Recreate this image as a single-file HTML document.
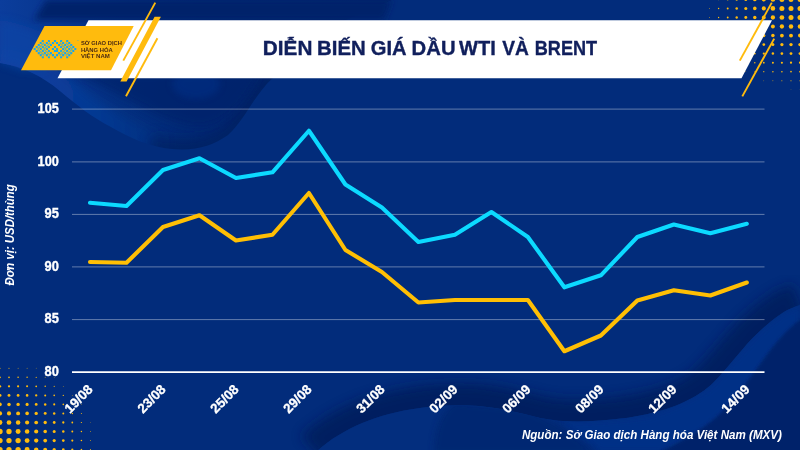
<!DOCTYPE html>
<html lang="vi"><head><meta charset="utf-8"><title>Diễn biến giá dầu WTI và Brent</title>
<style>html,body{margin:0;padding:0;background:#022c7b;}body{width:800px;height:450px;overflow:hidden;font-family:"Liberation Sans",sans-serif;}svg{display:block;will-change:transform;}</style>
</head><body>
<svg width="800" height="450" viewBox="0 0 800 450" font-family="'Liberation Sans', sans-serif">
<defs>
<linearGradient id="w1g" gradientUnits="userSpaceOnUse" x1="0" y1="0" x2="400" y2="0"><stop offset="0" stop-color="#0b3d9c"/><stop offset="0.15" stop-color="#07368e"/><stop offset="0.3" stop-color="#033080"/><stop offset="0.5" stop-color="#012a76"/><stop offset="1" stop-color="#00256c"/></linearGradient>
<linearGradient id="ridge" gradientUnits="userSpaceOnUse" x1="0" y1="0" x2="175" y2="0"><stop offset="0" stop-color="#0c43a4" stop-opacity="0.75"/><stop offset="0.6" stop-color="#0a3c9a" stop-opacity="0.55"/><stop offset="1" stop-color="#0a3c9a" stop-opacity="0"/></linearGradient>
<filter id="blur2" x="-20%" y="-20%" width="140%" height="140%"><feGaussianBlur stdDeviation="1.6"/></filter>
<filter id="blur3" x="-20%" y="-20%" width="140%" height="140%"><feGaussianBlur stdDeviation="3"/></filter>
<filter id="blur4" x="-20%" y="-20%" width="140%" height="140%"><feGaussianBlur stdDeviation="4"/></filter>
<filter id="blur6" x="-20%" y="-20%" width="140%" height="140%"><feGaussianBlur stdDeviation="6"/></filter>
</defs>
<rect width="800" height="450" fill="#022c7b"/>
<g>
<clipPath id="clipW1"><path d="M0,63 C22,66 42,76 60,91 C78,106 92,117 111,127 C130,138 150,147 172,149 C196,151 212,146 228,135 C240,124 250,106 258,95 C264,87 268,82 273,78 L300,40 L392,0 L0,0 Z"/></clipPath>
<path d="M0,63 C22,66 42,76 60,91 C78,106 92,117 111,127 C130,138 150,147 172,149 C196,151 212,146 228,135 C240,124 250,106 258,95 C264,87 268,82 273,78 L300,40 L392,0 L0,0 Z" fill="url(#w1g)"/>
<g clip-path="url(#clipW1)">
<path d="M0,63 C22,66 42,76 60,91 C78,106 92,117 111,127 C130,138 150,147 172,149" fill="none" stroke="url(#ridge)" stroke-width="30" filter="url(#blur4)"/>
<path d="M150,146 C158,148 165,150 172,150 C198,152 214,147 230,136 C242,125 252,107 260,96 C266,88 270,83 275,78" fill="none" stroke="#001c5a" stroke-width="24" filter="url(#blur6)" opacity="0.55"/>
<path d="M70,72 C90,80 118,94 140,106 C162,118 182,128 204,127 C226,124 244,104 262,72 Z" fill="#00226a" filter="url(#blur4)" opacity="0.7"/>
<ellipse cx="196" cy="84" rx="24" ry="15" fill="#05318a" opacity="0.5" filter="url(#blur3)"/>
</g>
<path d="M46,0 L392,0 L384,20 L34,20 Z" fill="#00226a" filter="url(#blur3)"/>
<path d="M0,20 C14,22 30,27 46,34 L46,70 L22,70 C14,66 6,64 0,63 Z" fill="#0c44a6" filter="url(#blur4)" opacity="0.75"/>
<clipPath id="clipLow"><path d="M316,452 C340,430 375,414 420,408 C440,405 460,404.5 479,406 C500,408 520,413 540,418 C560,422 580,422 600,420.5 C625,419 650,415 675,406 C690,400 702,393 712,384 C722,374 730,364 742,350 C752,338 765,325 781,314 C788,309 794,307 800,305 L800,452 Z"/></clipPath>
<clipPath id="clipUp"><path d="M316,452 C340,430 375,414 420,408 C440,405 460,404.5 479,406 C500,408 520,413 540,418 C560,422 580,422 600,420.5 C625,419 650,415 675,406 C690,400 702,393 712,384 C722,374 730,364 742,350 C752,338 765,325 781,314 C788,309 794,307 800,305 L800,0 L0,0 L0,452 Z"/></clipPath>
<g clip-path="url(#clipUp)"><path d="M316,452 C340,430 375,414 420,408 C440,405 460,404.5 479,406 C500,408 520,413 540,418 C560,422 580,422 600,420.5 C625,419 650,415 675,406 C690,400 702,393 712,384 C722,374 730,364 742,350 C752,338 765,325 781,314 C788,309 794,307 800,305" fill="none" stroke="#001a5a" stroke-width="44" filter="url(#blur6)" opacity="0.8"/></g>
<path d="M316,452 C340,430 375,414 420,408 C440,405 460,404.5 479,406 C500,408 520,413 540,418 C560,422 580,422 600,420.5 C625,419 650,415 675,406 C690,400 702,393 712,384 C722,374 730,364 742,350 C752,338 765,325 781,314 C788,309 794,307 800,305 L800,452 Z" fill="#032e7e"/>
<g clip-path="url(#clipLow)">
<path d="M560,421 C580,422 625,419 650,415 C690,400 702,393 712,384 C722,374 730,364 742,350 C752,338 765,325 781,314 L800,305 L800,330 C780,345 765,365 750,385 C735,405 715,425 690,440 L660,452 L600,452 Z" fill="#05338a" filter="url(#blur3)" opacity="0.7"/>
<path d="M434,454 C434,430 440,414 454,402 L520,408 C545,416 575,432 596,454 Z" fill="#00266f" filter="url(#blur3)" opacity="0.8"/>
<path d="M656,454 C680,443 705,428 720,414 C736,397 750,378 763,360 C775,343 788,328 800,320 L806,320 L806,454 Z" fill="#00226a" filter="url(#blur2)"/>
</g>
</g>
<g fill="#ffbb0d">
<circle cx="0.0" cy="449.6" r="2.65"/>
<circle cx="0.0" cy="440.6" r="2.65"/>
<circle cx="0.0" cy="431.5" r="2.65"/>
<circle cx="0.0" cy="422.5" r="2.39"/>
<circle cx="0.0" cy="413.4" r="2.09"/>
<circle cx="0.0" cy="404.4" r="1.78"/>
<circle cx="0.0" cy="395.4" r="1.47"/>
<circle cx="0.0" cy="386.3" r="1.17"/>
<circle cx="0.0" cy="377.3" r="0.86"/>
<circle cx="0.0" cy="368.2" r="0.55"/>
<circle cx="9.0" cy="449.6" r="2.65"/>
<circle cx="9.0" cy="440.6" r="2.65"/>
<circle cx="9.0" cy="431.5" r="2.64"/>
<circle cx="9.0" cy="422.5" r="2.35"/>
<circle cx="9.0" cy="413.4" r="2.06"/>
<circle cx="9.0" cy="404.4" r="1.75"/>
<circle cx="9.0" cy="395.4" r="1.45"/>
<circle cx="9.0" cy="386.3" r="1.15"/>
<circle cx="9.0" cy="377.3" r="0.84"/>
<circle cx="9.0" cy="368.2" r="0.54"/>
<circle cx="18.1" cy="449.6" r="2.65"/>
<circle cx="18.1" cy="440.6" r="2.65"/>
<circle cx="18.1" cy="431.5" r="2.48"/>
<circle cx="18.1" cy="422.5" r="2.24"/>
<circle cx="18.1" cy="413.4" r="1.96"/>
<circle cx="18.1" cy="404.4" r="1.68"/>
<circle cx="18.1" cy="395.4" r="1.39"/>
<circle cx="18.1" cy="386.3" r="1.09"/>
<circle cx="18.1" cy="377.3" r="0.80"/>
<circle cx="18.1" cy="368.2" r="0.49"/>
<circle cx="27.1" cy="449.6" r="2.48"/>
<circle cx="27.1" cy="440.6" r="2.42"/>
<circle cx="27.1" cy="431.5" r="2.27"/>
<circle cx="27.1" cy="422.5" r="2.07"/>
<circle cx="27.1" cy="413.4" r="1.83"/>
<circle cx="27.1" cy="404.4" r="1.56"/>
<circle cx="27.1" cy="395.4" r="1.29"/>
<circle cx="27.1" cy="386.3" r="1.01"/>
<circle cx="27.1" cy="377.3" r="0.72"/>
<circle cx="27.1" cy="368.2" r="0.43"/>
<circle cx="36.2" cy="449.6" r="2.20"/>
<circle cx="36.2" cy="440.6" r="2.15"/>
<circle cx="36.2" cy="431.5" r="2.04"/>
<circle cx="36.2" cy="422.5" r="1.86"/>
<circle cx="36.2" cy="413.4" r="1.65"/>
<circle cx="36.2" cy="404.4" r="1.41"/>
<circle cx="36.2" cy="395.4" r="1.16"/>
<circle cx="36.2" cy="386.3" r="0.89"/>
<circle cx="36.2" cy="377.3" r="0.61"/>
<circle cx="36.2" cy="368.2" r="0.33"/>
<circle cx="45.2" cy="449.6" r="1.92"/>
<circle cx="45.2" cy="440.6" r="1.88"/>
<circle cx="45.2" cy="431.5" r="1.78"/>
<circle cx="45.2" cy="422.5" r="1.64"/>
<circle cx="45.2" cy="413.4" r="1.45"/>
<circle cx="45.2" cy="404.4" r="1.23"/>
<circle cx="45.2" cy="395.4" r="1.00"/>
<circle cx="45.2" cy="386.3" r="0.75"/>
<circle cx="45.2" cy="377.3" r="0.48"/>
<circle cx="54.2" cy="449.6" r="1.63"/>
<circle cx="54.2" cy="440.6" r="1.60"/>
<circle cx="54.2" cy="431.5" r="1.52"/>
<circle cx="54.2" cy="422.5" r="1.39"/>
<circle cx="54.2" cy="413.4" r="1.23"/>
<circle cx="54.2" cy="404.4" r="1.03"/>
<circle cx="54.2" cy="395.4" r="0.82"/>
<circle cx="54.2" cy="386.3" r="0.58"/>
<circle cx="54.2" cy="377.3" r="0.33"/>
<circle cx="63.3" cy="449.6" r="1.35"/>
<circle cx="63.3" cy="440.6" r="1.33"/>
<circle cx="63.3" cy="431.5" r="1.25"/>
<circle cx="63.3" cy="422.5" r="1.14"/>
<circle cx="63.3" cy="413.4" r="0.99"/>
<circle cx="63.3" cy="404.4" r="0.82"/>
<circle cx="63.3" cy="395.4" r="0.62"/>
<circle cx="63.3" cy="386.3" r="0.40"/>
<circle cx="72.3" cy="449.6" r="1.07"/>
<circle cx="72.3" cy="440.6" r="1.05"/>
<circle cx="72.3" cy="431.5" r="0.98"/>
<circle cx="72.3" cy="422.5" r="0.88"/>
<circle cx="72.3" cy="413.4" r="0.75"/>
<circle cx="72.3" cy="404.4" r="0.59"/>
<circle cx="72.3" cy="395.4" r="0.40"/>
<circle cx="81.4" cy="449.6" r="0.79"/>
<circle cx="81.4" cy="440.6" r="0.77"/>
<circle cx="81.4" cy="431.5" r="0.71"/>
<circle cx="81.4" cy="422.5" r="0.62"/>
<circle cx="81.4" cy="413.4" r="0.50"/>
<circle cx="81.4" cy="404.4" r="0.35"/>
<circle cx="90.4" cy="449.6" r="0.50"/>
<circle cx="90.4" cy="440.6" r="0.49"/>
<circle cx="90.4" cy="431.5" r="0.43"/>
<circle cx="90.4" cy="422.5" r="0.35"/>
<circle cx="800.0" cy="-0.6" r="2.50"/>
<circle cx="800.0" cy="8.4" r="2.50"/>
<circle cx="800.0" cy="17.5" r="2.50"/>
<circle cx="800.0" cy="26.5" r="2.29"/>
<circle cx="800.0" cy="35.6" r="2.00"/>
<circle cx="800.0" cy="44.6" r="1.71"/>
<circle cx="800.0" cy="53.6" r="1.42"/>
<circle cx="800.0" cy="62.7" r="1.13"/>
<circle cx="800.0" cy="71.7" r="0.84"/>
<circle cx="800.0" cy="80.8" r="0.55"/>
<circle cx="800.0" cy="89.8" r="0.26"/>
<circle cx="791.0" cy="-0.6" r="2.50"/>
<circle cx="791.0" cy="8.4" r="2.50"/>
<circle cx="791.0" cy="17.5" r="2.50"/>
<circle cx="791.0" cy="26.5" r="2.25"/>
<circle cx="791.0" cy="35.6" r="1.97"/>
<circle cx="791.0" cy="44.6" r="1.69"/>
<circle cx="791.0" cy="53.6" r="1.40"/>
<circle cx="791.0" cy="62.7" r="1.11"/>
<circle cx="791.0" cy="71.7" r="0.83"/>
<circle cx="791.0" cy="80.8" r="0.54"/>
<circle cx="791.0" cy="89.8" r="0.25"/>
<circle cx="781.9" cy="-0.6" r="2.50"/>
<circle cx="781.9" cy="8.4" r="2.50"/>
<circle cx="781.9" cy="17.5" r="2.37"/>
<circle cx="781.9" cy="26.5" r="2.14"/>
<circle cx="781.9" cy="35.6" r="1.88"/>
<circle cx="781.9" cy="44.6" r="1.62"/>
<circle cx="781.9" cy="53.6" r="1.34"/>
<circle cx="781.9" cy="62.7" r="1.06"/>
<circle cx="781.9" cy="71.7" r="0.78"/>
<circle cx="781.9" cy="80.8" r="0.50"/>
<circle cx="772.9" cy="-0.6" r="2.34"/>
<circle cx="772.9" cy="8.4" r="2.30"/>
<circle cx="772.9" cy="17.5" r="2.16"/>
<circle cx="772.9" cy="26.5" r="1.97"/>
<circle cx="772.9" cy="35.6" r="1.75"/>
<circle cx="772.9" cy="44.6" r="1.50"/>
<circle cx="772.9" cy="53.6" r="1.24"/>
<circle cx="772.9" cy="62.7" r="0.98"/>
<circle cx="772.9" cy="71.7" r="0.71"/>
<circle cx="772.9" cy="80.8" r="0.43"/>
<circle cx="763.8" cy="-0.6" r="2.07"/>
<circle cx="763.8" cy="8.4" r="2.04"/>
<circle cx="763.8" cy="17.5" r="1.94"/>
<circle cx="763.8" cy="26.5" r="1.78"/>
<circle cx="763.8" cy="35.6" r="1.58"/>
<circle cx="763.8" cy="44.6" r="1.36"/>
<circle cx="763.8" cy="53.6" r="1.12"/>
<circle cx="763.8" cy="62.7" r="0.87"/>
<circle cx="763.8" cy="71.7" r="0.61"/>
<circle cx="763.8" cy="80.8" r="0.34"/>
<circle cx="754.8" cy="-0.6" r="1.81"/>
<circle cx="754.8" cy="8.4" r="1.78"/>
<circle cx="754.8" cy="17.5" r="1.70"/>
<circle cx="754.8" cy="26.5" r="1.56"/>
<circle cx="754.8" cy="35.6" r="1.39"/>
<circle cx="754.8" cy="44.6" r="1.19"/>
<circle cx="754.8" cy="53.6" r="0.97"/>
<circle cx="754.8" cy="62.7" r="0.73"/>
<circle cx="754.8" cy="71.7" r="0.48"/>
<circle cx="745.8" cy="-0.6" r="1.54"/>
<circle cx="745.8" cy="8.4" r="1.52"/>
<circle cx="745.8" cy="17.5" r="1.45"/>
<circle cx="745.8" cy="26.5" r="1.33"/>
<circle cx="745.8" cy="35.6" r="1.18"/>
<circle cx="745.8" cy="44.6" r="1.00"/>
<circle cx="745.8" cy="53.6" r="0.79"/>
<circle cx="745.8" cy="62.7" r="0.57"/>
<circle cx="745.8" cy="71.7" r="0.34"/>
<circle cx="736.7" cy="-0.6" r="1.27"/>
<circle cx="736.7" cy="8.4" r="1.26"/>
<circle cx="736.7" cy="17.5" r="1.19"/>
<circle cx="736.7" cy="26.5" r="1.09"/>
<circle cx="736.7" cy="35.6" r="0.95"/>
<circle cx="736.7" cy="44.6" r="0.79"/>
<circle cx="736.7" cy="53.6" r="0.60"/>
<circle cx="736.7" cy="62.7" r="0.40"/>
<circle cx="727.7" cy="-0.6" r="1.01"/>
<circle cx="727.7" cy="8.4" r="0.99"/>
<circle cx="727.7" cy="17.5" r="0.94"/>
<circle cx="727.7" cy="26.5" r="0.85"/>
<circle cx="727.7" cy="35.6" r="0.72"/>
<circle cx="727.7" cy="44.6" r="0.57"/>
<circle cx="727.7" cy="53.6" r="0.40"/>
<circle cx="718.6" cy="-0.6" r="0.74"/>
<circle cx="718.6" cy="8.4" r="0.73"/>
<circle cx="718.6" cy="17.5" r="0.68"/>
<circle cx="718.6" cy="26.5" r="0.60"/>
<circle cx="718.6" cy="35.6" r="0.48"/>
<circle cx="718.6" cy="44.6" r="0.35"/>
<circle cx="709.6" cy="-0.6" r="0.48"/>
<circle cx="709.6" cy="8.4" r="0.46"/>
<circle cx="709.6" cy="17.5" r="0.42"/>
<circle cx="709.6" cy="26.5" r="0.34"/>
</g>
<polygon points="88.5,20.3 772,20.3 741.5,78.2 57.5,78.2" fill="#ffffff"/>
<polygon points="44.5,26 133.7,26 111,70.3 21,70.3" fill="#ffbb0d"/>
<g stroke="#ffbb0d" stroke-linecap="butt" fill="none">
<line x1="155.3" y1="2.6" x2="123.3" y2="60.6" stroke-width="1.9"/>
<line x1="157.4" y1="38.3" x2="126" y2="96.2" stroke-width="1.9"/>
<line x1="771.8" y1="2.6" x2="739.8" y2="60.6" stroke-width="1.9"/>
<line x1="774.2" y1="38.6" x2="742.3" y2="96.4" stroke-width="1.9"/>
</g>
<polygon points="154.6,16.7 160.9,16.7 126.6,81.6 120.3,81.6" fill="#ffbb0d"/>
<g fill="none" stroke="#17a6f0" stroke-width="1.1" stroke-opacity="0.7" stroke-linejoin="miter">
<polyline points="44.24,42.55 37.75,49.05 44.24,55.55"/>
<polyline points="50.33,42.55 43.84,49.05 50.33,55.55"/>
<polyline points="65.76,42.55 72.25,49.05 65.76,55.55"/>
<polyline points="59.67,42.55 66.16,49.05 59.67,55.55"/>
</g>
<g fill="#17a6f0">
<rect x="33.66" y="48.01" width="2.08" height="2.08" rx="0.5"/>
<rect x="35.69" y="45.98" width="2.08" height="2.08" rx="0.5"/>
<rect x="35.69" y="50.04" width="2.08" height="2.08" rx="0.5"/>
<rect x="37.72" y="43.95" width="2.08" height="2.08" rx="0.5"/>
<rect x="37.72" y="52.07" width="2.08" height="2.08" rx="0.5"/>
<rect x="39.75" y="41.92" width="2.08" height="2.08" rx="0.5"/>
<rect x="39.75" y="48.01" width="2.08" height="2.08" rx="0.5"/>
<rect x="39.75" y="54.10" width="2.08" height="2.08" rx="0.5"/>
<rect x="41.78" y="39.89" width="2.08" height="2.08" rx="0.5"/>
<rect x="41.78" y="45.98" width="2.08" height="2.08" rx="0.5"/>
<rect x="41.78" y="50.04" width="2.08" height="2.08" rx="0.5"/>
<rect x="41.78" y="56.13" width="2.08" height="2.08" rx="0.5"/>
<rect x="43.81" y="43.95" width="2.08" height="2.08" rx="0.5"/>
<rect x="43.81" y="52.07" width="2.08" height="2.08" rx="0.5"/>
<rect x="45.84" y="41.92" width="2.08" height="2.08" rx="0.5"/>
<rect x="45.84" y="48.01" width="2.08" height="2.08" rx="0.5"/>
<rect x="45.84" y="54.10" width="2.08" height="2.08" rx="0.5"/>
<rect x="47.87" y="39.89" width="2.08" height="2.08" rx="0.5"/>
<rect x="47.87" y="45.98" width="2.08" height="2.08" rx="0.5"/>
<rect x="47.87" y="50.04" width="2.08" height="2.08" rx="0.5"/>
<rect x="47.87" y="56.13" width="2.08" height="2.08" rx="0.5"/>
<rect x="49.90" y="43.95" width="2.08" height="2.08" rx="0.5"/>
<rect x="49.90" y="52.07" width="2.08" height="2.08" rx="0.5"/>
<rect x="51.93" y="41.92" width="2.08" height="2.08" rx="0.5"/>
<rect x="51.93" y="48.01" width="2.08" height="2.08" rx="0.5"/>
<rect x="51.93" y="54.10" width="2.08" height="2.08" rx="0.5"/>
<rect x="53.96" y="39.89" width="2.08" height="2.08" rx="0.5"/>
<rect x="53.96" y="45.98" width="2.08" height="2.08" rx="0.5"/>
<rect x="53.96" y="50.04" width="2.08" height="2.08" rx="0.5"/>
<rect x="53.96" y="56.13" width="2.08" height="2.08" rx="0.5"/>
<rect x="55.99" y="41.92" width="2.08" height="2.08" rx="0.5"/>
<rect x="55.99" y="48.01" width="2.08" height="2.08" rx="0.5"/>
<rect x="55.99" y="50.04" width="2.08" height="2.08" rx="0.5"/>
<rect x="55.99" y="54.10" width="2.08" height="2.08" rx="0.5"/>
<rect x="58.02" y="43.95" width="2.08" height="2.08" rx="0.5"/>
<rect x="58.02" y="52.07" width="2.08" height="2.08" rx="0.5"/>
<rect x="60.05" y="39.89" width="2.08" height="2.08" rx="0.5"/>
<rect x="60.05" y="45.98" width="2.08" height="2.08" rx="0.5"/>
<rect x="60.05" y="50.04" width="2.08" height="2.08" rx="0.5"/>
<rect x="60.05" y="56.13" width="2.08" height="2.08" rx="0.5"/>
<rect x="62.08" y="41.92" width="2.08" height="2.08" rx="0.5"/>
<rect x="62.08" y="48.01" width="2.08" height="2.08" rx="0.5"/>
<rect x="62.08" y="54.10" width="2.08" height="2.08" rx="0.5"/>
<rect x="64.11" y="43.95" width="2.08" height="2.08" rx="0.5"/>
<rect x="64.11" y="52.07" width="2.08" height="2.08" rx="0.5"/>
<rect x="66.14" y="39.89" width="2.08" height="2.08" rx="0.5"/>
<rect x="66.14" y="45.98" width="2.08" height="2.08" rx="0.5"/>
<rect x="66.14" y="50.04" width="2.08" height="2.08" rx="0.5"/>
<rect x="66.14" y="56.13" width="2.08" height="2.08" rx="0.5"/>
<rect x="68.17" y="41.92" width="2.08" height="2.08" rx="0.5"/>
<rect x="68.17" y="48.01" width="2.08" height="2.08" rx="0.5"/>
<rect x="68.17" y="54.10" width="2.08" height="2.08" rx="0.5"/>
<rect x="70.20" y="43.95" width="2.08" height="2.08" rx="0.5"/>
<rect x="70.20" y="52.07" width="2.08" height="2.08" rx="0.5"/>
<rect x="72.23" y="45.98" width="2.08" height="2.08" rx="0.5"/>
<rect x="72.23" y="50.04" width="2.08" height="2.08" rx="0.5"/>
<rect x="74.26" y="48.01" width="2.08" height="2.08" rx="0.5"/>
</g>
<text x="76.6" y="41.6" font-size="2.4" fill="#17a6f0">™</text>
<g font-weight="bold" font-size="6.1" fill="#4b2a12">
<text x="80.9" y="44.8" textLength="41" lengthAdjust="spacingAndGlyphs">SỞ GIAO DỊCH</text>
<text x="80.9" y="51.6" textLength="31.9" lengthAdjust="spacingAndGlyphs">HÀNG HÓA</text>
<text x="80.9" y="58.1" textLength="28.9" lengthAdjust="spacingAndGlyphs">VIỆT NAM</text>
</g>
<g font-size="19.7" font-weight="bold" fill="#101f5c" stroke="#101f5c" stroke-width="0.35">
<text x="262.81" y="55.4" textLength="49.59" lengthAdjust="spacingAndGlyphs">DIỄN</text>
<text x="317.14" y="55.4" textLength="48.74" lengthAdjust="spacingAndGlyphs">BIẾN</text>
<text x="370.88" y="55.4" textLength="35.76" lengthAdjust="spacingAndGlyphs">GIÁ</text>
<text x="411.64" y="55.4" textLength="43.89" lengthAdjust="spacingAndGlyphs">DẦU</text>
<text x="458.98" y="55.4" textLength="36.76" lengthAdjust="spacingAndGlyphs">WTI</text>
<text x="502.27" y="55.4" textLength="26.64" lengthAdjust="spacingAndGlyphs">VÀ</text>
<text x="534.79" y="55.4" textLength="62.41" lengthAdjust="spacingAndGlyphs">BRENT</text>
</g>
<line x1="72" y1="109.1" x2="764.5" y2="109.1" stroke="#ffffff" stroke-opacity="0.38" stroke-width="1"/>
<text x="37.6" y="112.9" font-size="14.4" font-weight="bold" fill="#ffffff" stroke="#ffffff" stroke-width="0.4" textLength="21.2" lengthAdjust="spacingAndGlyphs">105</text>
<line x1="72" y1="161.9" x2="764.5" y2="161.9" stroke="#ffffff" stroke-opacity="0.38" stroke-width="1"/>
<text x="37.6" y="165.7" font-size="14.4" font-weight="bold" fill="#ffffff" stroke="#ffffff" stroke-width="0.4" textLength="21.2" lengthAdjust="spacingAndGlyphs">100</text>
<line x1="72" y1="214.4" x2="764.5" y2="214.4" stroke="#ffffff" stroke-opacity="0.38" stroke-width="1"/>
<text x="44.5" y="218.2" font-size="14.4" font-weight="bold" fill="#ffffff" stroke="#ffffff" stroke-width="0.4" textLength="14.3" lengthAdjust="spacingAndGlyphs">95</text>
<line x1="72" y1="266.9" x2="764.5" y2="266.9" stroke="#ffffff" stroke-opacity="0.38" stroke-width="1"/>
<text x="44.5" y="270.7" font-size="14.4" font-weight="bold" fill="#ffffff" stroke="#ffffff" stroke-width="0.4" textLength="14.3" lengthAdjust="spacingAndGlyphs">90</text>
<line x1="72" y1="319.6" x2="764.5" y2="319.6" stroke="#ffffff" stroke-opacity="0.38" stroke-width="1"/>
<text x="44.5" y="323.4" font-size="14.4" font-weight="bold" fill="#ffffff" stroke="#ffffff" stroke-width="0.4" textLength="14.3" lengthAdjust="spacingAndGlyphs">85</text>
<line x1="72" y1="372.1" x2="764.5" y2="372.1" stroke="#ffffff" stroke-width="1.8"/>
<text x="44.5" y="375.9" font-size="14.4" font-weight="bold" fill="#ffffff" stroke="#ffffff" stroke-width="0.4" textLength="14.3" lengthAdjust="spacingAndGlyphs">80</text>
<polyline points="90.00,262.00 126.49,262.75 162.98,227.00 199.47,215.30 235.96,240.50 272.45,234.75 308.94,193.00 345.43,250.00 381.92,272.00 418.41,302.50 454.90,300.00 491.39,300.00 527.88,300.00 564.37,351.25 600.86,335.50 637.35,300.50 673.84,290.25 710.33,295.50 746.82,282.50" fill="none" stroke="#ffbf04" stroke-width="4.1" stroke-linecap="round" stroke-linejoin="round"/>
<polyline points="90.00,202.75 126.49,206.00 162.98,170.00 199.47,158.25 235.96,178.00 272.45,172.30 308.94,130.75 345.43,184.50 381.92,207.50 418.41,242.00 454.90,234.75 491.39,212.00 527.88,237.00 564.37,287.30 600.86,275.30 637.35,237.00 673.84,224.50 710.33,233.25 746.82,223.75" fill="none" stroke="#0cdaff" stroke-width="4.1" stroke-linecap="round" stroke-linejoin="round"/>
<text transform="translate(93.60,390.3) rotate(-45)" font-size="13.4" font-weight="bold" fill="#ffffff" stroke="#ffffff" stroke-width="0.3" text-anchor="end">19/08</text>
<text transform="translate(166.58,390.3) rotate(-45)" font-size="13.4" font-weight="bold" fill="#ffffff" stroke="#ffffff" stroke-width="0.3" text-anchor="end">23/08</text>
<text transform="translate(239.56,390.3) rotate(-45)" font-size="13.4" font-weight="bold" fill="#ffffff" stroke="#ffffff" stroke-width="0.3" text-anchor="end">25/08</text>
<text transform="translate(312.54,390.3) rotate(-45)" font-size="13.4" font-weight="bold" fill="#ffffff" stroke="#ffffff" stroke-width="0.3" text-anchor="end">29/08</text>
<text transform="translate(385.52,390.3) rotate(-45)" font-size="13.4" font-weight="bold" fill="#ffffff" stroke="#ffffff" stroke-width="0.3" text-anchor="end">31/08</text>
<text transform="translate(458.50,390.3) rotate(-45)" font-size="13.4" font-weight="bold" fill="#ffffff" stroke="#ffffff" stroke-width="0.3" text-anchor="end">02/09</text>
<text transform="translate(531.48,390.3) rotate(-45)" font-size="13.4" font-weight="bold" fill="#ffffff" stroke="#ffffff" stroke-width="0.3" text-anchor="end">06/09</text>
<text transform="translate(604.46,390.3) rotate(-45)" font-size="13.4" font-weight="bold" fill="#ffffff" stroke="#ffffff" stroke-width="0.3" text-anchor="end">08/09</text>
<text transform="translate(677.44,390.3) rotate(-45)" font-size="13.4" font-weight="bold" fill="#ffffff" stroke="#ffffff" stroke-width="0.3" text-anchor="end">12/09</text>
<text transform="translate(750.42,390.3) rotate(-45)" font-size="13.4" font-weight="bold" fill="#ffffff" stroke="#ffffff" stroke-width="0.3" text-anchor="end">14/09</text>
<text transform="translate(14.2,285.6) rotate(-90)" font-size="11.9" font-weight="bold" font-style="italic" fill="#ffffff" textLength="101.3" lengthAdjust="spacingAndGlyphs">Đơn vị: USD/thùng</text>
<text x="521.9" y="438.9" font-size="12.1" font-weight="bold" font-style="italic" fill="#ffffff" textLength="260" lengthAdjust="spacingAndGlyphs">Nguồn: Sở Giao dịch Hàng hóa Việt Nam (MXV)</text>
</svg>
</body></html>
